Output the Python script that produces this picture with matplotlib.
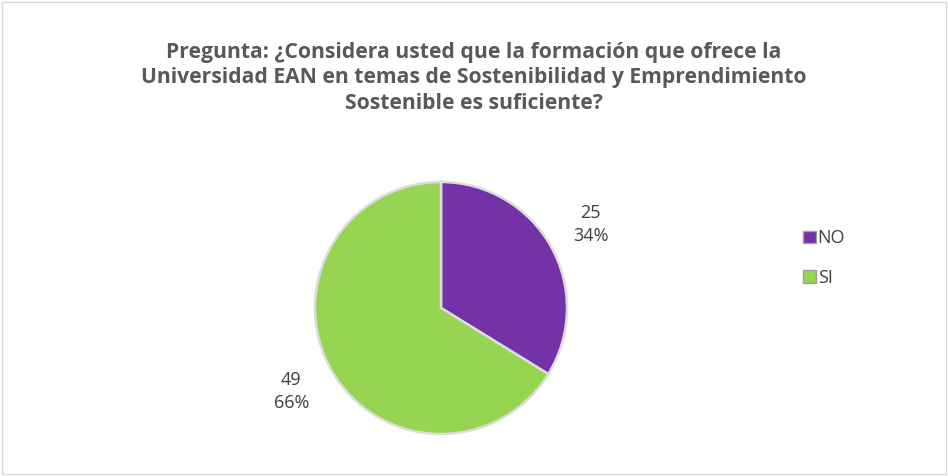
import matplotlib
matplotlib.use('Agg')
import matplotlib.pyplot as plt
from matplotlib.patches import Patch, Rectangle

# Survey data
categories = ['NO', 'SI']
counts = [25, 49]
colors = ['#7432A8', '#96D452']

title = ('Pregunta: ¿Considera usted que la formación que ofrece la\n'
         'Universidad EAN en temas de Sostenibilidad y Emprendimiento\n'
         'Sostenible es suficiente?')

W, H = 948, 476
fig = plt.figure(figsize=(W / 100, H / 100), dpi=100)
fig.patch.set_facecolor('white')

# light frame around the chart area
fig.patches.append(Rectangle((2 / W, 2 / H), 1 - 4 / W, 1 - 4 / H,
                             transform=fig.transFigure, fill=False,
                             edgecolor='#d9d9d9', linewidth=1))

fig.text(0.5, 1 - 78 / H, title, ha='center', va='center',
         fontsize=15.2, fontweight='bold', color='#595959',
         family='Open Sans', linespacing=1.3)

# pie centred at (441, 308) px with radius 126 px
cx, cy, r = 441, 308, 126
ax = fig.add_axes([(cx - r) / W, (H - cy - r) / H, 2 * r / W, 2 * r / H])
total = sum(counts)
labels = [f'{c}\n{round(100 * c / total)}%' for c in counts]
wedges, texts = ax.pie(counts, colors=colors, startangle=90, counterclock=False,
                       labels=labels, labeldistance=1.36,
                       wedgeprops=dict(edgecolor='#dcdcdc', linewidth=1.8),
                       textprops=dict(fontsize=13, color='#404040', family='Open Sans',
                                      ha='center', va='center', linespacing=1.3))
ax.set_xlim(-1, 1)
ax.set_ylim(-1, 1)
ax.set_aspect('equal')
ax.axis('off')

handles = [Patch(facecolor=c, edgecolor='#a0a0a0', label=l)
           for c, l in zip(colors, categories)]
fig.legend(handles=handles, loc='center left',
           bbox_to_anchor=(787 / W, 1 - 258 / H), frameon=False,
           handlelength=0.7, handleheight=0.7, handletextpad=0.1,
           labelspacing=1.2, prop=dict(family='Open Sans', size=13),
           labelcolor='#404040')

fig.savefig('out.png', dpi=100)
